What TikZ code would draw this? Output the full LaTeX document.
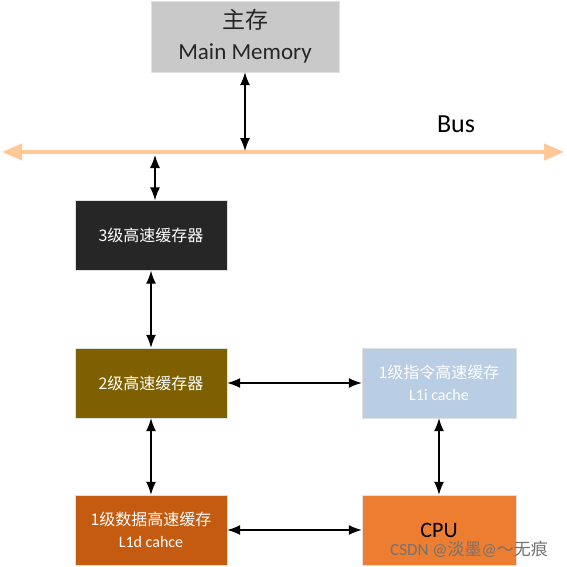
\documentclass[tikz,border=0pt]{standalone}
\usepackage{fontspec}
\setmainfont{Carlito}
\newfontfamily\cjk{Noto Sans CJK SC}
\usetikzlibrary{arrows.meta}
\definecolor{buscol}{RGB}{255,200,150}
\definecolor{memcol}{RGB}{201,201,201}
\definecolor{lthreecol}{RGB}{38,38,38}
\definecolor{ltwocol}{RGB}{127,96,0}
\definecolor{lonedcol}{RGB}{197,90,17}
\definecolor{lonei}{RGB}{185,205,229}
\definecolor{cpucol}{RGB}{237,125,49}
\begin{document}
\begin{tikzpicture}[x=1pt,y=-1pt,
  box/.style={draw=black!12, minimum width=152pt, minimum height=70pt, inner sep=0pt, align=center, text=white, font=\fontsize{16}{22}\selectfont},
  link/.style={draw, line width=1.3pt, {Latex[length=13pt,width=10pt]}-{Latex[length=13pt,width=10pt]}},
  bus/.style={draw=buscol, line width=4pt, {Triangle[length=20pt,width=16pt]}-{Triangle[length=20pt,width=16pt]}}]
\useasboundingbox (0,0) rectangle (566,567);
\node[box, fill=memcol, text=black!85, minimum width=188pt, minimum height=71pt, font=\fontsize{23}{31}\selectfont] (mem) at (245,36.5) {{\cjk 主存}\\Main Memory};
\coordinate (busL) at (2,152);
\coordinate (busR) at (564,152);
\coordinate (b1) at (245,151);
\coordinate (b2) at (155,155);
\node[font=\fontsize{26}{30}\selectfont] (bus) at (456,124) {Bus};

\node[box, fill=lthreecol] (l3) at (151,235.5) {\cjk 3级高速缓存器};
\node[box, fill=ltwocol] (l2) at (151,383) {\cjk 2级高速缓存器};
\node[box, fill=lonei, minimum width=154pt] (l1i) at (439,383) {{\cjk 1级指令高速缓存}\\L1i cache};
\node[box, fill=lonedcol] (l1d) at (151,530) {{\cjk 1级数据高速缓存}\\L1d cahce};
\node[box, fill=cpucol, text=black, minimum width=154pt, font=\fontsize{22}{26}\selectfont] (cpu) at (439,530) {CPU};
\node[text=black!55, font=\fontsize{17}{20}\selectfont] (mark) at (469,549) {CSDN @{\cjk 淡墨}@{\cjk ～无痕}};

\path[bus] (busL) -- (busR);
\path[link] (mem.south) -- (b1);
\path[link] (b2) -- (b2 |- l3.north);
\path[link] (l3) -- (l2);
\path[link] (l2) -- (l1d);
\path[link] (l2) -- (l1i);
\path[link] (l1d) -- (cpu);
\path[link] (l1i) -- (cpu);
\end{tikzpicture}
\end{document}
